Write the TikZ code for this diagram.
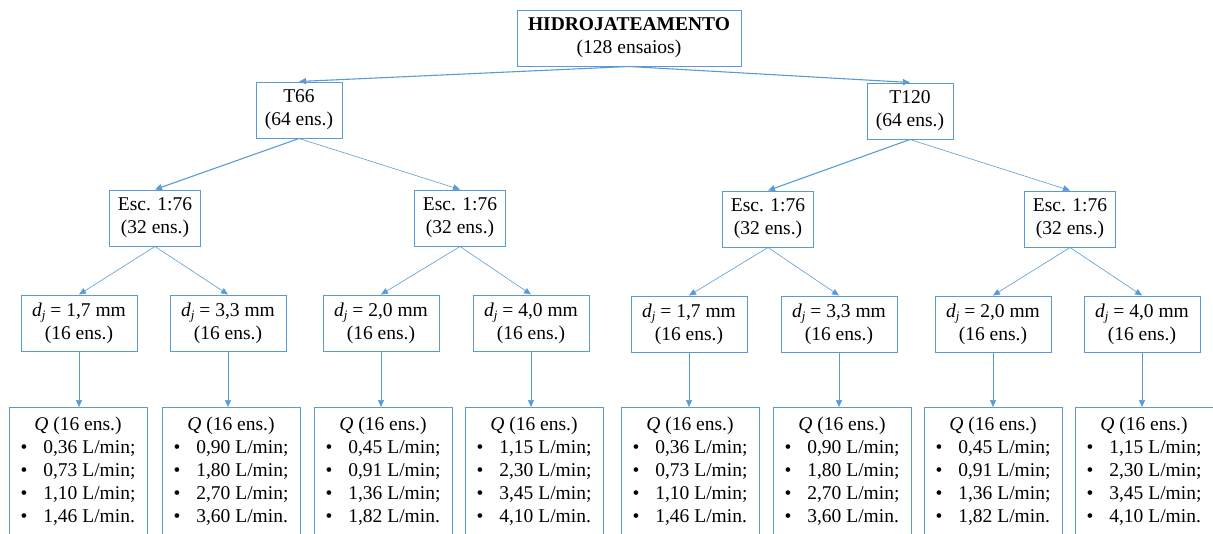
\documentclass[tikz,border=0pt]{standalone}
\usepackage{fontspec}
\setmainfont{Liberation Serif}
\usetikzlibrary{arrows.meta}
\definecolor{boxblue}{HTML}{5B9BD5}
\newcommand{\djval}[1]{\textit{d}\raisebox{-0.35ex}{\fontsize{13}{13}\selectfont\textit{j}} = #1 mm\\(16 ens.)}
\newcommand{\qlist}[4]{\begin{tabular}{@{}l@{\hspace{16pt}}l@{}}
\multicolumn{2}{c}{\textit{Q} (16 ens.)}\\
•&#1 L/min;\\
•&#2 L/min;\\
•&#3 L/min;\\
•&#4 L/min.
\end{tabular}}
\tikzset{
  every node/.style={font=\fontsize{19.5}{23}\selectfont},
  box/.style={draw=boxblue, line width=1pt, fill=white, align=center, inner sep=0pt, minimum height=56},
  lvl1/.style={box, minimum width=86},
  escbox/.style={box, minimum width=91},
  djbox/.style={box, minimum width=116},
  qbox/.style={box, minimum width=138, minimum height=135, anchor=north},
  qtext/.style={anchor=north, inner sep=0pt},
  arrthick/.style={draw=boxblue, line width=1.1pt, -{Triangle[length=7pt,width=6pt]}},
  arrthin/.style={draw=boxblue, line width=0.6pt, -{Triangle[length=7pt,width=6pt]}},
}
\begin{document}
\begin{tikzpicture}[x=1pt,y=-1pt]
\useasboundingbox (0,0) rectangle (1213,533);
% root
\node[box, minimum width=224] (top) at (629,38) {\textbf{HIDROJATEAMENTO}\\(128 ensaios)};
% level 1
\node[lvl1] (t66) at (299,110) {T66\\(64 ens.)};
\node[lvl1] (t120) at (910,111) {T120\\(64 ens.)};
% level 2
\node[escbox] (e1) at (155,218) {Esc. 1:76\\(32 ens.)};
\node[escbox] (e2) at (460,218) {Esc. 1:76\\(32 ens.)};
\node[escbox] (e3) at (768,219) {Esc. 1:76\\(32 ens.)};
\node[escbox] (e4) at (1070,219) {Esc. 1:76\\(32 ens.)};
% level 3
\node[djbox] (d1) at (79,323) {\djval{1,7}};
\node[djbox] (d2) at (228,323) {\djval{3,3}};
\node[djbox] (d3) at (381,323) {\djval{2,0}};
\node[djbox] (d4) at (531,323) {\djval{4,0}};
\node[djbox] (d5) at (689,324) {\djval{1,7}};
\node[djbox] (d6) at (839,324) {\djval{3,3}};
\node[djbox] (d7) at (993,324) {\djval{2,0}};
\node[djbox] (d8) at (1142,324) {\djval{4,0}};
% level 4
\node[qbox] (q1) at (78,407) {};
\node[qbox] (q2) at (231,407) {};
\node[qbox] (q3) at (383,407) {};
\node[qbox] (q4) at (534,407) {};
\node[qbox] (q5) at (690,407) {};
\node[qbox] (q6) at (842,407) {};
\node[qbox] (q7) at (993,407) {};
\node[qbox] (q8) at (1144,407) {};
\node[qtext] (qt1) at ([yshift=-7pt]q1.north) {\qlist{0,36}{0,73}{1,10}{1,46}};
\node[qtext] (qt2) at ([yshift=-7pt]q2.north) {\qlist{0,90}{1,80}{2,70}{3,60}};
\node[qtext] (qt3) at ([yshift=-7pt]q3.north) {\qlist{0,45}{0,91}{1,36}{1,82}};
\node[qtext] (qt4) at ([yshift=-7pt]q4.north) {\qlist{1,15}{2,30}{3,45}{4,10}};
\node[qtext] (qt5) at ([yshift=-7pt]q5.north) {\qlist{0,36}{0,73}{1,10}{1,46}};
\node[qtext] (qt6) at ([yshift=-7pt]q6.north) {\qlist{0,90}{1,80}{2,70}{3,60}};
\node[qtext] (qt7) at ([yshift=-7pt]q7.north) {\qlist{0,45}{0,91}{1,36}{1,82}};
\node[qtext] (qt8) at ([yshift=-7pt]q8.north) {\qlist{1,15}{2,30}{3,45}{4,10}};
% connectors
\draw[arrthick] (top.south) -- (t66.north);
\draw[arrthick] (top.south) -- (t120.north);
\draw[arrthick] (t66.south) -- (e1.north);
\draw[arrthin] (t66.south) -- (e2.north);
\draw[arrthick] (t120.south) -- (e3.north);
\draw[arrthin] (t120.south) -- (e4.north);
\draw[arrthin] (e1.south) -- (d1.north);
\draw[arrthin] (e1.south) -- (d2.north);
\draw[arrthin] (e2.south) -- (d3.north);
\draw[arrthin] (e2.south) -- (d4.north);
\draw[arrthin] (e3.south) -- (d5.north);
\draw[arrthin] (e3.south) -- (d6.north);
\draw[arrthin] (e4.south) -- (d7.north);
\draw[arrthin] (e4.south) -- (d8.north);
\draw[arrthin] (d1.south) -- (d1.south |- q1.north);
\draw[arrthin] (d2.south) -- (d2.south |- q2.north);
\draw[arrthin] (d3.south) -- (d3.south |- q3.north);
\draw[arrthin] (d4.south) -- (d4.south |- q4.north);
\draw[arrthin] (d5.south) -- (d5.south |- q5.north);
\draw[arrthin] (d6.south) -- (d6.south |- q6.north);
\draw[arrthin] (d7.south) -- (d7.south |- q7.north);
\draw[arrthin] (d8.south) -- (d8.south |- q8.north);
\end{tikzpicture}
\end{document}
